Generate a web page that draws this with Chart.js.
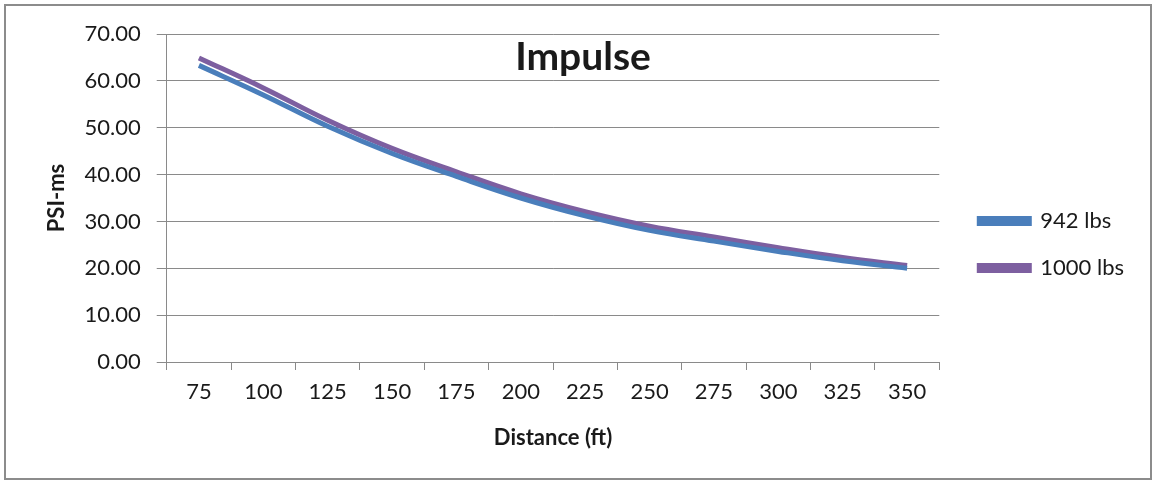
<!DOCTYPE html>
<html>
<head>
<meta charset="utf-8">
<title>Impulse</title>
<script src="https://cdn.jsdelivr.net/npm/chart.js@4.4.0/dist/chart.umd.min.js"></script>
<style>
    html, body { margin: 0; padding: 0; background: #fff; }
    #wrap { position: relative; width: 1154px; height: 482px; }
    #frame {
        position: absolute; left: 4px; top: 4px;
        width: 1144px; height: 472px;
        border: 2px solid #8c8c8c;
        pointer-events: none;
    }
</style>
</head>
<body>
<div id="wrap">
    <canvas id="impulseChart" width="1154" height="482"></canvas>
    <div id="frame"></div>
</div>
<script>
// distance in ft (category axis)
const distances = ['75', '100', '125', '150', '175', '200', '225', '250', '275', '300', '325', '350'];

// impulse in psi-ms
const impulse942 = [63.3, 57.0, 50.3, 44.5, 39.6, 35.0, 31.2, 28.1, 25.8, 23.6, 21.6, 20.0];
const impulse1000 = [64.9, 58.5, 51.6, 45.6, 40.6, 35.9, 32.1, 29.0, 26.7, 24.4, 22.3, 20.6];

const seriesNames = ['942 lbs', '1000 lbs'];
const yMin = 0, yMax = 70, yStep = 10;

const textColor = '#1a1a1a';
const gridColor = '#8a8a8a';
const fontFamily = 'Lato, "Open Sans", sans-serif';

document.addEventListener('DOMContentLoaded', function () {
    const ctx = document.getElementById('impulseChart').getContext('2d');

    const data = {
        labels: distances,
        datasets: [{
            label: seriesNames[0],
            data: impulse942,
            borderColor: '#4a7ebb',
            backgroundColor: '#4a7ebb',
            borderWidth: 5,
            pointRadius: 0,
            tension: 0.4,
            yAxisID: 'y'
        }, {
            label: seriesNames[1],
            data: impulse1000,
            borderColor: '#7d5fa0',
            backgroundColor: '#7d5fa0',
            borderWidth: 5,
            pointRadius: 0,
            tension: 0.4,
            yAxisID: 'y'
        }]
    };

    const config = {
        type: 'line',
        data: data,
        options: {
            responsive: false,
            animation: false,
            layout: {
                padding: { top: 7, right: 20, bottom: 0, left: 32 }
            },
            plugins: {
                title: {
                    display: true,
                    text: 'Impulse',
                    color: textColor,
                    font: { family: fontFamily, size: 39, weight: 'bold' },
                    padding: { top: 26.6, bottom: -46.4 }
                },
                legend: {
                    position: 'right',
                    labels: {
                        color: textColor,
                        font: { family: fontFamily, size: 22 },
                        boxWidth: 50,
                        boxHeight: 5,
                        padding: 25
                    }
                },
                tooltip: { enabled: false }
            },
            scales: {
                x: {
                    offset: true,
                    grid: {
                        display: true,
                        offset: true,
                        drawOnChartArea: false,
                        drawTicks: true,
                        tickLength: 8,
                        color: gridColor
                    },
                    border: { display: true, color: gridColor },
                    ticks: {
                        color: textColor,
                        font: { family: fontFamily, size: 22 },
                        padding: 9,
                        maxRotation: 0
                    },
                    title: {
                        display: true,
                        text: 'Distance (ft)',
                        color: textColor,
                        font: { family: fontFamily, size: 22, weight: 'bold' },
                        padding: { top: 10.4, bottom: 30.8 }
                    }
                },
                y: {
                    min: yMin,
                    max: yMax,
                    grid: {
                        color: gridColor,
                        tickLength: 10
                    },
                    border: { display: true, color: gridColor },
                    ticks: {
                        stepSize: yStep,
                        color: textColor,
                        font: { family: fontFamily, size: 22 },
                        padding: 16,
                        callback: function (value) { return value.toFixed(2); }
                    },
                    title: {
                        display: true,
                        text: 'PSI-ms',
                        color: textColor,
                        font: { family: fontFamily, size: 22, weight: 'bold' },
                        padding: { top: 11.8, bottom: -1.7 }
                    }
                },
                // empty spacer between plot area and legend
                gap: {
                    type: 'linear',
                    position: 'right',
                    display: true,
                    grid: { display: false },
                    border: { display: false },
                    ticks: { display: false },
                    afterFit: function (scale) { scale.width = 15; }
                }
            }
        }
    };

    new Chart(ctx, config);
});
</script>
</body>
</html>
